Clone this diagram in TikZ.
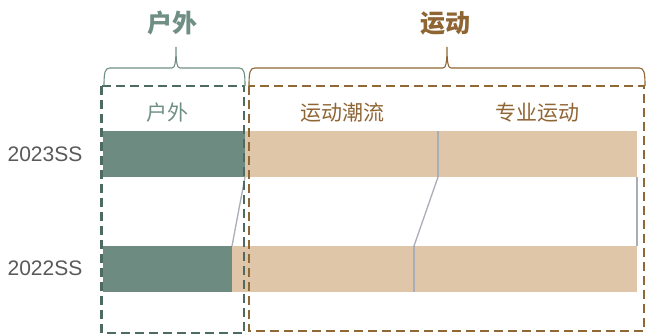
\documentclass[tikz,border=0pt]{standalone}
\usepackage{fontspec}
\setmainfont{Liberation Sans}
\newfontfamily\cjk{Noto Sans CJK SC}
\definecolor{barg}{HTML}{6E8B82}
\definecolor{bart}{HTML}{DFC6A8}
\definecolor{dashg}{HTML}{4E6B63}
\definecolor{dashb}{HTML}{8E6835}
\definecolor{titg}{HTML}{6F8F84}
\definecolor{titb}{HTML}{8F6534}
\definecolor{conn}{HTML}{A9ADB5}
\definecolor{yeartxt}{HTML}{595959}
\tikzset{
  bar/.style={rectangle, inner sep=0pt, outer sep=0pt, minimum height=46pt, anchor=north west},
  gbar/.style={bar, fill=barg},
  tbar/.style={bar, fill=bart},
  link/.style={draw=conn, line width=1.3pt},
  gbox/.style={draw=dashg, line width=2.8pt, dash pattern=on 9pt off 5pt},
  bbox/.style={draw=dashb, line width=2.8pt, dash pattern=on 9pt off 5pt},
  gbrace/.style={draw=titg, line width=1.1pt},
  bbrace/.style={draw=titb, line width=1.1pt},
  bigtitle/.style={font=\cjk\bfseries\fontsize{25}{25}\selectfont},
  subtitle/.style={font=\cjk\fontsize{21}{21}\selectfont},
  yearlbl/.style={font=\fontsize{21}{21}\selectfont, text=yeartxt},
}
\begin{document}
\begin{tikzpicture}[x=1pt,y=-1pt]
\useasboundingbox (0,0) rectangle (646,334);
% bars 2023
\node[gbar, minimum width=142pt] (g23) at (103,131) {};
\node[tbar, minimum width=193pt] (ta23) at (245,131) {};
\node[tbar, minimum width=199pt] (tb23) at (438,131) {};
% bars 2022
\node[gbar, minimum width=129pt] (g22) at (103,246) {};
\node[tbar, minimum width=182pt] (ta22) at (232,246) {};
\node[tbar, minimum width=223pt] (tb22) at (414,246) {};
% dividers and connectors
\draw[link] (ta23.north east) -- (ta23.south east);
\draw[link] (ta22.north east) -- (ta22.south east);
\draw[link] (g23.south east) -- (g22.north east);
\draw[link] (ta23.south east) -- (ta22.north east);
\draw[link] (tb23.south east) -- (tb22.north east);
% year labels
\node[yearlbl] (y23) at (45,154) {2023SS};
\node[yearlbl] (y22) at (45,268) {2022SS};
% dashed boxes
\draw[gbox] (101.5,86) rectangle (244,333);
\draw[bbox] (249,86) rectangle (644,331);
% sub headers
\node[subtitle, text=titg] (sg) at (167,113) {户外};
\node[subtitle, text=titb] (sa) at (342,113) {运动潮流};
\node[subtitle, text=titb] (sb) at (537,113) {专业运动};
% braces
\draw[gbrace] (104,86) .. controls (104,72) and (105,68) .. (110,68) -- (172,68)
  .. controls (175,68) and (176,62) .. (176,47) .. controls (176,62) and (177,68) .. (180,68)
  -- (239,68) .. controls (244,68) and (245,72) .. (245,86);
\draw[bbrace] (249,86) .. controls (249,72) and (250,68) .. (255,68) -- (443,68)
  .. controls (446,68) and (447,62) .. (447,47) .. controls (447,62) and (448,68) .. (451,68)
  -- (639,68) .. controls (644,68) and (645,72) .. (645,86);
% titles
\node[bigtitle, text=titg] (tg) at (172,23) {户外};
\node[bigtitle, text=titb] (tb) at (445,23) {运动};
\end{tikzpicture}
\end{document}
